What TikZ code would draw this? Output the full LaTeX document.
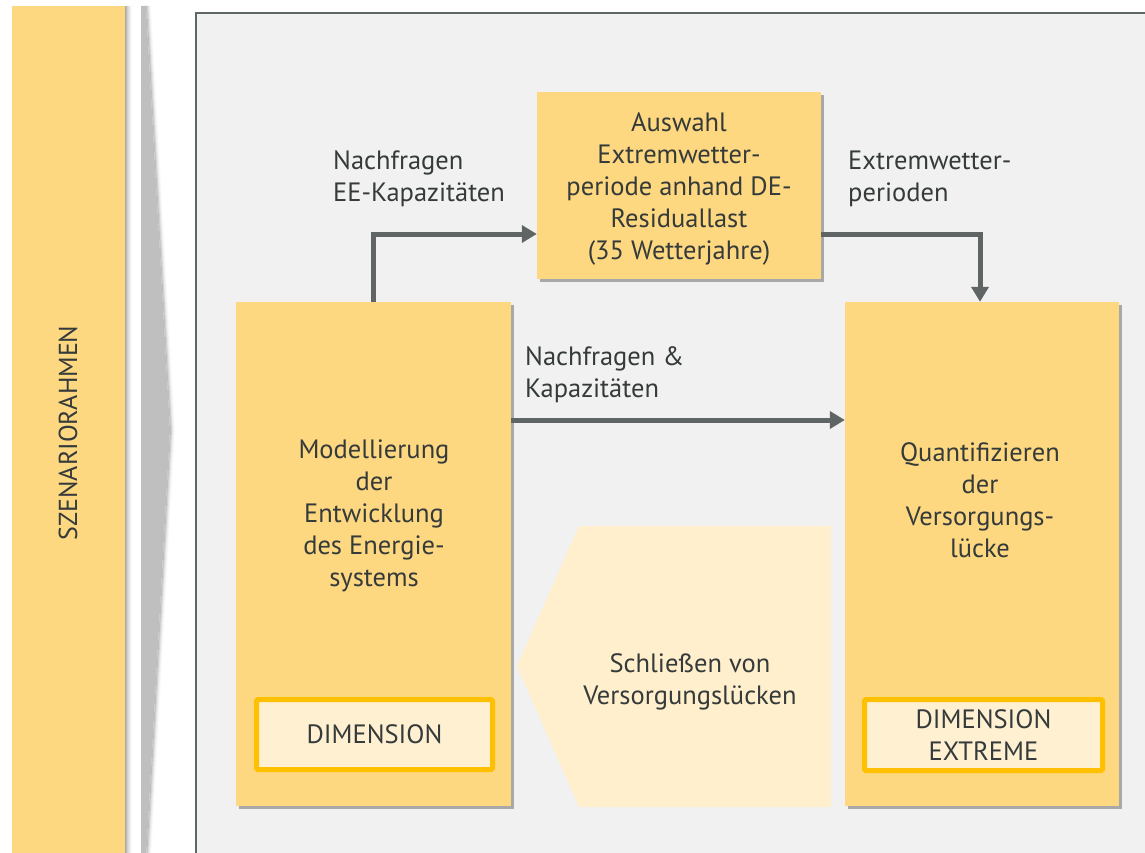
\documentclass[tikz,border=0pt]{standalone}
\usepackage{fontspec}
\setmainfont{PT Sans}
\usetikzlibrary{shadows,arrows.meta,calc}
\definecolor{boxyellow}{HTML}{FDD880}
\definecolor{cream}{HTML}{FFF0D2}
\definecolor{gold}{HTML}{FFC000}
\definecolor{txt}{HTML}{353A3A}
\definecolor{arr}{HTML}{5E6564}
\definecolor{panel}{HTML}{F1F1F1}
\definecolor{panelborder}{HTML}{5F6767}
\definecolor{pent}{HTML}{FFEFCC}
\definecolor{chev}{HTML}{BFBFBF}
\begin{document}
\begin{tikzpicture}[x=1pt,y=-1pt,
  ybox/.style={fill=boxyellow, draw=none, inner sep=0,
    drop shadow={shadow xshift=3pt,shadow yshift=-3pt,opacity=0.3,fill=black}},
  dimbox/.style={fill=cream, draw=gold, line width=5pt, rounded corners=1.5pt, inner sep=0,
    font=\fontsize{26.5}{32}\selectfont, text=txt, align=center},
  lbl/.style={font=\fontsize{26.5}{32}\selectfont, text=txt, align=center, inner sep=0},
  conn/.style={draw=arr, line width=5pt, -{Triangle[length=15pt,width=17pt]}},
]
\useasboundingbox (0,0) rectangle (1145,853);
\fill[white] (0,0) rectangle (1145,853);

% left bar with soft shadow
\foreach \i/\o in {1/0.10,2/0.08,3/0.06,4/0.05,5/0.04,6/0.03,7/0.02}{
  \fill[black, opacity=\o] (125,6) rectangle (125+\i,860);
}
\node[fill=boxyellow, draw=none, inner sep=0, minimum width=113pt, minimum height=860pt] (SZ) at (68.5,436) {};
\node[lbl, rotate=90, font=\fontsize{26}{28}\selectfont] (SZT) at (68,433) {SZENARIORAHMEN};

% chevron
\foreach \i/\o in {1/0.10,2/0.07,3/0.05,4/0.03,5/0.02}{
  \fill[black, opacity=\o] (146,6) -- (146+\i,6) -- (170+\i,430) -- (146+\i,860) -- (146,860) -- (170,430) -- cycle;
}
\fill[chev] (141,6) -- (146,6) -- (170,430) -- (146,860) -- (141,860) -- cycle;

% main panel
\draw[fill=panel, draw=panelborder, line width=1.5pt] (196,13) rectangle (1160,870);

% boxes
\node[ybox, minimum width=284pt, minimum height=187pt] (T) at (679,185.5) {};
\node[ybox, minimum width=275pt, minimum height=504pt] (L) at (373.5,554) {};
\node[ybox, minimum width=274pt, minimum height=504pt] (R) at (982,554) {};

\node[lbl] (Tt) at (679,189) {Auswahl\\Extremwetter-\\periode anhand DE-\\Residuallast\\(35 Wetterjahre)};
\node[lbl] (Lt) at (374,516) {Modellierung\\der\\Entwicklung\\des Energie-\\systems};
\node[lbl] (Rt) at (980,500) {Quantifizieren\\der\\Versorgungs-\\lücke};

\node[dimbox, minimum width=236pt, minimum height=70pt] (LD) at (374.5,734.5) {DIMENSION};
\node[dimbox, minimum width=238pt, minimum height=71pt] (RD) at (983.5,735) {DIMENSION\\EXTREME};

% pentagon arrow
\fill[pent] (579,526) -- (831,526) -- (831,807) -- (579,807) -- (517,666) -- cycle;
\node[lbl] (Pt) at (690,682) {Schließen von\\Versorgungslücken};

% connectors
\draw[conn] (L.north) |- ([yshift=-48.5pt]T.west);
\draw[conn] ([yshift=-48.5pt]T.east) -| ([xshift=-2pt]R.north);
\draw[conn] ([yshift=134pt]L.east) -- ([yshift=134pt]R.west);

% labels
\node[lbl, anchor=west, align=left] (l1) at (333,179) {Nachfragen\\EE-Kapazitäten};
\node[lbl, anchor=west, align=left] (l2) at (848,179) {Extremwetter-\\perioden};
\node[lbl, anchor=west, align=left] (l3) at (525,375) {Nachfragen \&\\Kapazitäten};
\end{tikzpicture}
\end{document}
